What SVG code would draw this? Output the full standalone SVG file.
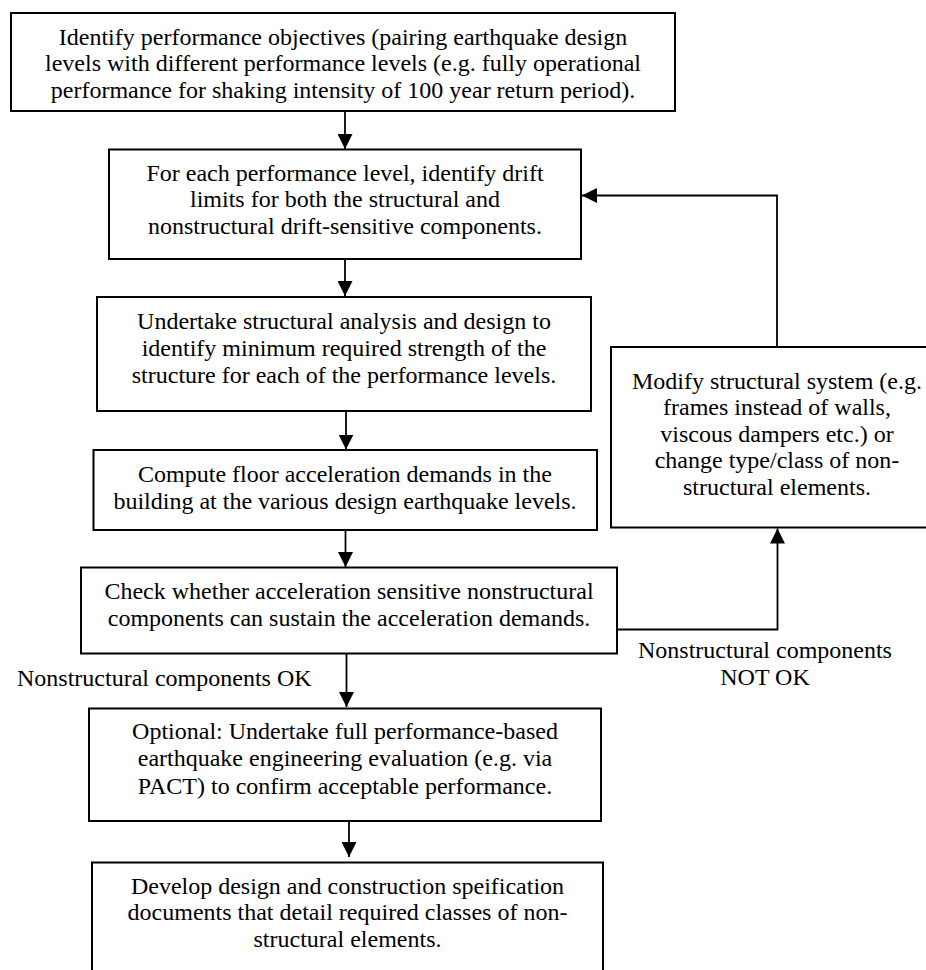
<svg xmlns="http://www.w3.org/2000/svg" width="926" height="970" viewBox="0 0 926 970">
<style>
.box{fill:#ffffff;stroke:#000000;stroke-width:2}
.t{font-family:"Liberation Serif","Times New Roman",serif;font-size:24px;fill:#000000;text-anchor:middle}
.lbl{font-family:"Liberation Serif","Times New Roman",serif;font-size:24px;fill:#000000}
.c{fill:none;stroke:#000000;stroke-width:1.8}
</style>
<defs>
<marker id="ah" markerUnits="userSpaceOnUse" markerWidth="15" markerHeight="15" viewBox="0 0 15 15" refX="15" refY="7.5" orient="auto">
<path d="M0,0 L15,7.5 L0,15 z" fill="#000000"/>
</marker>
</defs>
<rect width="926" height="970" fill="#ffffff"/>
<g id="n1">
<rect class="box" x="11" y="13" width="664" height="98"/>
<text class="t" x="343" y="44.5">Identify performance objectives (pairing earthquake design</text>
<text class="t" x="343" y="71">levels with different performance levels (e.g. fully operational</text>
<text class="t" x="343" y="97.5">performance for shaking intensity of 100 year return period).</text>
</g>
<g id="n2">
<rect class="box" x="109" y="149.5" width="472" height="109.5"/>
<text class="t" x="345" y="180.5">For each performance level, identify drift</text>
<text class="t" x="345" y="207">limits for both the structural and</text>
<text class="t" x="345" y="233.5">nonstructural drift-sensitive components.</text>
</g>
<g id="n3">
<rect class="box" x="97" y="297" width="494" height="114"/>
<text class="t" x="344" y="328.5">Undertake structural analysis and design to</text>
<text class="t" x="344" y="356">identify minimum required strength of the</text>
<text class="t" x="344" y="383">structure for each of the performance levels.</text>
</g>
<g id="n4">
<rect class="box" x="93.5" y="450" width="503.5" height="80"/>
<text class="t" x="345" y="481.5">Compute floor acceleration demands in the</text>
<text class="t" x="345" y="508.5">building at the various design earthquake levels.</text>
</g>
<g id="n5">
<rect class="box" x="81" y="567.5" width="536" height="86"/>
<text class="t" x="349" y="598.5">Check whether acceleration sensitive nonstructural</text>
<text class="t" x="349" y="626">components can sustain the acceleration demands.</text>
</g>
<g id="n6">
<rect class="box" x="89" y="708.5" width="512" height="112.5"/>
<text class="t" x="345" y="738.5">Optional: Undertake full performance-based</text>
<text class="t" x="345" y="766">earthquake engineering evaluation (e.g. via</text>
<text class="t" x="345" y="794">PACT) to confirm acceptable performance.</text>
</g>
<g id="n7">
<rect class="box" x="92" y="862.5" width="511" height="120"/>
<text class="t" x="347.5" y="893.5">Develop design and construction speification</text>
<text class="t" x="347.5" y="920">documents that detail required classes of non-</text>
<text class="t" x="347.5" y="946.5">structural elements.</text>
</g>
<g id="n8">
<rect class="box" x="611" y="347" width="330" height="180.5"/>
<text class="t" x="777" y="388.5">Modify structural system (e.g.</text>
<text class="t" x="777" y="415">frames instead of walls,</text>
<text class="t" x="777" y="441.5">viscous dampers etc.) or</text>
<text class="t" x="777" y="468">change type/class of non-</text>
<text class="t" x="777" y="494.5">structural elements.</text>
</g>
<g id="connectors">
<line class="c" x1="345" y1="111" x2="345" y2="149" marker-end="url(#ah)"/>
<line class="c" x1="345" y1="259" x2="345" y2="296" marker-end="url(#ah)"/>
<line class="c" x1="346" y1="411" x2="346" y2="449.5" marker-end="url(#ah)"/>
<line class="c" x1="345.5" y1="530" x2="345.5" y2="567" marker-end="url(#ah)"/>
<line class="c" x1="346.5" y1="653.5" x2="346.5" y2="707" marker-end="url(#ah)"/>
<line class="c" x1="349" y1="821" x2="349" y2="857" marker-end="url(#ah)"/>
<polyline class="c" points="618,629.5 777.5,629.5 777.5,528.5" marker-end="url(#ah)"/>
<polyline class="c" points="777,347 777,195.5 582,195.5" marker-end="url(#ah)"/>
<text class="lbl" x="17" y="686">Nonstructural components OK</text>
<text class="t" x="765" y="658">Nonstructural components</text>
<text class="t" x="765" y="684.5">NOT OK</text>
</g>
</svg>
